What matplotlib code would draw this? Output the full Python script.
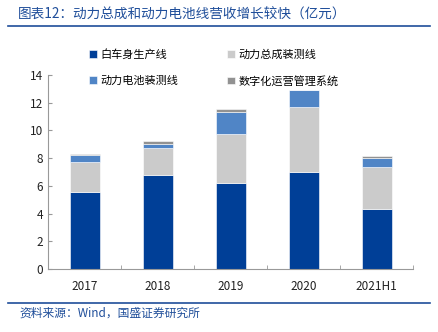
import numpy as np
import matplotlib.pyplot as plt
from matplotlib.lines import Line2D

plt.rcParams['font.family'] = ['Noto Sans CJK SC', 'DejaVu Sans']

# data (亿元)
years = ['2017', '2018', '2019', '2020', '2021H1']
body_line = [5.55, 6.8, 6.2, 7.0, 4.33]
powertrain = [2.2, 1.95, 3.55, 4.7, 3.0]
battery = [0.45, 0.3, 1.6, 1.25, 0.65]
digital = [0.1, 0.2, 0.2, 0.0, 0.15]

names = ['白车身生产线', '动力总成装测线', '动力电池装测线', '数字化运营管理系统']
colors = ['#003f97', '#cbcbcb', '#5085c6', '#929292']

fig = plt.figure(figsize=(4.38, 3.32), dpi=100)
ax = fig.add_axes([0.110, 0.190, 0.833, 0.584])

x = np.arange(len(years))
bottom = np.zeros(len(years))
handles = []
for vals, c, n in zip([body_line, powertrain, battery, digital], colors, names):
    b = ax.bar(x, vals, width=0.41, bottom=bottom, color=c, label=n,
               edgecolor='white', linewidth=0.4)
    bottom += np.array(vals)
    handles.append(b)

ax.set_ylim(0, 14)
ax.set_xlim(-0.5, len(years) - 0.5)
ax.set_yticks(range(0, 15, 2))
ax.set_xticks(x)
ax.set_xticklabels(years)
ax.tick_params(axis='both', labelsize=8.5, colors='#222222')
ax.tick_params(axis='y', direction='in', length=3, color='#999999')
ax.tick_params(axis='x', length=0, pad=8)
# category boundary ticks
ax.set_xticks(np.arange(len(years)) + 0.5, minor=True)
ax.tick_params(axis='x', which='minor', direction='in', length=3, color='#999999')
for s in ['top', 'right']:
    ax.spines[s].set_visible(False)
for s in ['left', 'bottom']:
    ax.spines[s].set_color('#999999')
    ax.spines[s].set_linewidth(0.8)

# legend fills column-wise: reorder so rows read body/powertrain, battery/digital
order = [0, 2, 1, 3]
ax.legend([handles[i] for i in order], [names[i] for i in order], ncol=2,
          loc='upper left', bbox_to_anchor=(0.085, 1.185),
          frameon=False, fontsize=8, handlelength=0.7, handleheight=0.7,
          handletextpad=0.3, columnspacing=4.4, labelspacing=1.4)

title_color = '#1f4e9a'
fig.text(0.04, 0.955, '图表12：动力总成和动力电池线营收增长较快（亿元）',
         color=title_color, fontsize=9.8, style='italic', va='center')
fig.add_artist(Line2D([0.018, 0.982], [0.922, 0.922], color='#1f4e9a', lw=1.2))
fig.add_artist(Line2D([0.018, 0.982], [0.088, 0.088], color='#1f4e9a', lw=1.2))
fig.text(0.045, 0.058, '资料来源：Wind，国盛证券研究所', color=title_color,
         fontsize=8.5, style='italic', va='center')

fig.savefig('out.png', dpi=100)
